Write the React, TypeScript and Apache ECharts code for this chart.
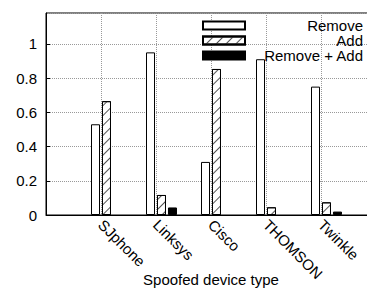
import React, { useEffect, useRef } from "react";
import * as echarts from "echarts";

const categories = ["SJphone", "Linksys", "Cisco", "THOMSON", "Twinkle"];
const removeValues = [0.53, 0.95, 0.31, 0.91, 0.75];
const addValues = [0.665, 0.117, 0.853, 0.045, 0.074];
const removeAddValues = [0, 0.044, 0, 0, 0.02];
const yTicks = [0, 0.2, 0.4, 0.6, 0.8, 1];

const FONT = "'Liberation Sans', Arial, Helvetica, sans-serif";

export default function App() {
  const ref = useRef<HTMLDivElement>(null);
  useEffect(() => {
    if (!ref.current) return;
    const chart = echarts.init(ref.current, undefined, { renderer: "svg" });
    const axisCats = ["", ...categories, ""];
    const pad = (arr: number[]) => [null, ...arr.map((v) => (v === 0 ? null : v)), null];
    chart.setOption({
      animation: false,
      backgroundColor: "#fff",
      textStyle: { fontFamily: FONT, color: "#000" },
      grid: {
        left: 46,
        top: 13,
        width: 330,
        height: 202,
        show: true,
        borderColor: "#000",
        borderWidth: 1,
        backgroundColor: "transparent",
        containLabel: false,
        outerBoundsMode: "none",
      },
      legend: {
        data: ["Remove", "Add", "Remove + Add"],
        orient: "vertical",
        left: 202,
        top: 18,
        padding: 0,
        itemWidth: 42,
        itemHeight: 8,
        itemGap: 0,
        icon: "rect",
        selectedMode: false,
        formatter: (name: string) => `{t|${name}}`,
        textStyle: {
          fontFamily: FONT,
          color: "#000",
          rich: {
            t: { width: 113, align: "right", fontSize: 15, lineHeight: 15, fontFamily: FONT, color: "#000" },
          },
        },
      },
      xAxis: {
        type: "category",
        data: axisCats,
        boundaryGap: false,
        name: "Spoofed device type",
        nameLocation: "middle",
        nameGap: 57,
        nameMoveOverlap: false,
        nameTextStyle: { fontSize: 15, color: "#000", fontFamily: FONT },
        axisLine: { show: true, lineStyle: { color: "#000", width: 1 } },
        axisTick: { show: false },
        axisLabel: {
          rotate: -45,
          fontSize: 15,
          color: "#000",
          fontFamily: FONT,
          margin: 7,
          interval: 0,
        },
        splitLine: { show: true, lineStyle: { color: "#999", type: "dotted", width: 1 } },
      },
      yAxis: {
        type: "value",
        min: 0,
        max: 1.18,
        interval: 0.2,
        axisLine: { show: true, lineStyle: { color: "#000", width: 1 } },
        axisTick: { show: true, inside: true, length: 4, lineStyle: { color: "#000" } },
        axisLabel: {
          showMaxLabel: false,
          fontSize: 15,
          color: "#000",
          fontFamily: FONT,
          margin: 9,
          formatter: (v: number) => {
            const t = yTicks.find((y) => Math.abs(y - v) < 1e-6);
            return t === undefined ? "" : String(t);
          },
        },
        splitLine: { show: true, lineStyle: { color: "#999", type: "dotted", width: 1 } },
      },
      series: [
        {
          name: "_gap",
          type: "bar",
          data: axisCats.map(() => null),
          barWidth: 9,
          barGap: "22%",
        },
        {
          name: "Remove",
          type: "bar",
          data: pad(removeValues),
          barWidth: 9,
          barGap: "22%",
          itemStyle: { color: "#fff", borderColor: "#000", borderWidth: 1 },
        },
        {
          name: "Add",
          type: "bar",
          data: pad(addValues),
          barWidth: 9,
          barGap: "22%",
          itemStyle: {
            color: "#fff",
            borderColor: "#000",
            borderWidth: 1,
            decal: {
              symbol: "rect",
              symbolSize: 1,
              color: "#555",
              backgroundColor: "#fff",
              dashArrayX: [1, 0],
              dashArrayY: [1, 6],
              rotation: -Math.PI / 4,
            },
          },
        },
        {
          name: "Remove + Add",
          type: "bar",
          data: pad(removeAddValues),
          barWidth: 9,
          barGap: "22%",
          itemStyle: { color: "#000", borderColor: "#000", borderWidth: 1 },
        },
      ],
    });
    return () => chart.dispose();
  }, []);
  return (
    <div
      ref={ref}
      style={{ position: "absolute", left: 0, top: 0, width: 367, height: 292, background: "#fff" }}
    />
  );
}
